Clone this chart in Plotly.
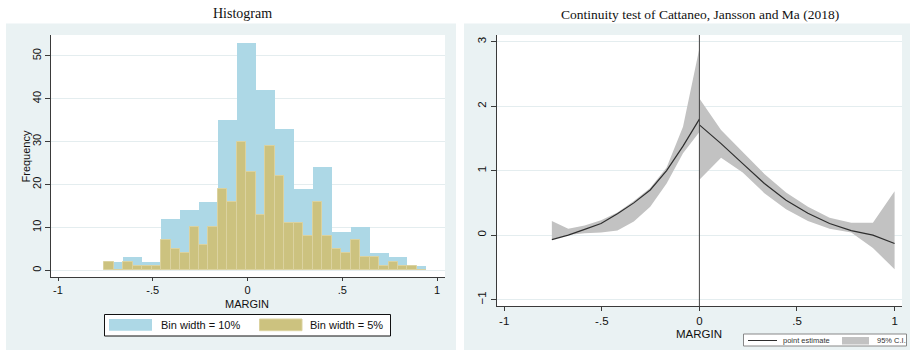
import numpy as np
import plotly.graph_objects as go

# ---------------- data ----------------
bin_start = -0.756
blue_width = 0.10
yellow_width = 0.05
blue_counts = [2, 3, 2, 12, 14, 16, 35, 53, 42, 33, 19, 24, 9, 10, 4, 3, 1]
yellow_counts = [2, 0, 2, 1, 1, 1, 7, 5, 4, 10, 6, 10, 19, 16, 30, 23, 13, 29,
                 22, 11, 11, 8, 16, 8, 5, 4, 7, 3, 3, 1, 2, 1, 1, 0]

left_x = [-0.756, -0.672, -0.588, -0.504, -0.420, -0.336, -0.252, -0.168, -0.084, 0.0]
left_est = [-0.07, 0.00, 0.09, 0.18, 0.33, 0.50, 0.70, 1.00, 1.38, 1.80]
left_hi = [0.22, 0.10, 0.15, 0.23, 0.35, 0.53, 0.73, 1.05, 1.68, 2.90]
left_lo = [-0.07, 0.00, 0.03, 0.04, 0.07, 0.21, 0.44, 0.80, 1.27, 1.60]

right_x = [0.0, 0.111, 0.222, 0.333, 0.444, 0.556, 0.667, 0.778, 0.889, 1.0]
right_est = [1.71, 1.42, 1.11, 0.80, 0.54, 0.34, 0.18, 0.07, 0.00, -0.13]
right_hi = [2.12, 1.63, 1.29, 0.95, 0.66, 0.44, 0.27, 0.19, 0.19, 0.68]
right_lo = [0.86, 1.20, 0.97, 0.65, 0.40, 0.22, 0.10, 0.04, -0.20, -0.53]

x_tick_vals = [-1, -0.5, 0, 0.5, 1]
x_tick_text = ["-1", "-.5", "0", ".5", "1"]
hist_y_ticks = [0, 10, 20, 30, 40, 50]
cjm_y_ticks = [-1, 0, 1, 2, 3]

title_left = "Histogram"
title_right = "Continuity test of Cattaneo, Jansson and Ma (2018)"
legend_left = ["Bin width = 10%", "Bin width = 5%"]
legend_right = ["point estimate", "95% C.I."]

# ---------------- style ----------------
W, H = 910, 350
BLUE = "#ADD8E6"
KHAKI = "#CCC27F"
KHAKI_EDGE = "#DBD29F"
PANEL = "#EAF2F3"
GRID = "#E4EDEF"
AXIS = "#3A3A3A"
BAND = "#C2C2C2"
SANS = "Liberation Sans, Arial, sans-serif"
SERIF = "Liberation Serif, Times New Roman, serif"


def px(x):
    return x / W


def py(y):
    return 1 - y / H


blue_x = [bin_start + blue_width * (i + 0.5) for i in range(len(blue_counts))]
yellow_x = [bin_start + yellow_width * (i + 0.5) for i in range(len(yellow_counts))]

fig = go.Figure()

fig.add_trace(go.Bar(x=blue_x, y=blue_counts, width=blue_width,
                     marker=dict(color=BLUE, line=dict(color=BLUE, width=0)),
                     xaxis="x", yaxis="y", showlegend=False))
fig.add_trace(go.Bar(x=yellow_x, y=yellow_counts, width=yellow_width,
                     marker=dict(color=KHAKI, line=dict(color=KHAKI_EDGE, width=1)),
                     xaxis="x", yaxis="y", showlegend=False))

# confidence bands
for xs, lo, hi in [(left_x, left_lo, left_hi), (right_x, right_lo, right_hi)]:
    fig.add_trace(go.Scatter(x=list(xs) + list(xs)[::-1], y=list(hi) + list(lo)[::-1],
                             fill="toself", fillcolor=BAND, mode="lines",
                             line=dict(width=0, color=BAND),
                             xaxis="x2", yaxis="y2", showlegend=False, hoverinfo="skip"))
for xs, est in [(left_x, left_est), (right_x, right_est)]:
    fig.add_trace(go.Scatter(x=xs, y=est, mode="lines",
                             line=dict(color="#2E2E2E", width=1.2),
                             xaxis="x2", yaxis="y2", showlegend=False))

shapes = []
# panel backgrounds
shapes.append(dict(type="rect", xref="paper", yref="paper", x0=px(6), x1=px(456),
                   y0=py(350), y1=py(23.5), fillcolor=PANEL, line=dict(width=0), layer="below"))
shapes.append(dict(type="rect", xref="paper", yref="paper", x0=px(464), x1=px(910),
                   y0=py(350), y1=py(23.5), fillcolor=PANEL, line=dict(width=0), layer="below"))
# plot area backgrounds
shapes.append(dict(type="rect", xref="paper", yref="paper", x0=px(51), x1=px(445),
                   y0=py(277), y1=py(35), fillcolor="white", line=dict(width=0), layer="below"))
shapes.append(dict(type="rect", xref="paper", yref="paper", x0=px(497), x1=px(902),
                   y0=py(306), y1=py(35), fillcolor="white", line=dict(width=0), layer="below"))
# vertical line at 0 (right)
shapes.append(dict(type="line", xref="x2", yref="y2 domain", x0=0, x1=0, y0=0, y1=1,
                   line=dict(color="#444444", width=1)))

# left legend
shapes.append(dict(type="rect", xref="paper", yref="paper", x0=px(104.5), x1=px(390.5),
                   y0=py(336), y1=py(314.5), fillcolor="white", line=dict(color="#111111", width=1)))
shapes.append(dict(type="rect", xref="paper", yref="paper", x0=px(109), x1=px(152),
                   y0=py(330.7), y1=py(319), fillcolor=BLUE, line=dict(width=0)))
shapes.append(dict(type="rect", xref="paper", yref="paper", x0=px(259.5), x1=px(302),
                   y0=py(330.7), y1=py(319), fillcolor=KHAKI, line=dict(color=KHAKI_EDGE, width=1)))
# right legend
shapes.append(dict(type="rect", xref="paper", yref="paper", x0=px(743.5), x1=px(906.5),
                   y0=py(346), y1=py(334), fillcolor="white", line=dict(color="#888888", width=1)))
shapes.append(dict(type="line", xref="paper", yref="paper", x0=px(748), x1=px(777),
                   y0=py(340.5), y1=py(340.5), line=dict(color="#2E2E2E", width=1)))
shapes.append(dict(type="rect", xref="paper", yref="paper", x0=px(842), x1=px(869),
                   y0=py(344.5), y1=py(337), fillcolor=BAND, line=dict(width=0)))

annotations = [
    dict(text=title_left, x=px(242), y=py(13), xref="paper", yref="paper",
         showarrow=False, font=dict(family=SERIF, size=14, color="#111111"),
         xanchor="center", yanchor="middle"),
    dict(text=title_right, x=px(700), y=py(14), xref="paper", yref="paper",
         showarrow=False, font=dict(family=SERIF, size=13.5, color="#111111"),
         xanchor="center", yanchor="middle"),
    dict(text="MARGIN", x=px(247), y=py(303.5), xref="paper", yref="paper",
         showarrow=False, font=dict(family=SANS, size=11, color="#111111"),
         xanchor="center", yanchor="middle"),
    dict(text="MARGIN", x=px(699), y=py(333.5), xref="paper", yref="paper",
         showarrow=False, font=dict(family=SANS, size=11.5, color="#111111"),
         xanchor="center", yanchor="middle"),
    dict(text="Frequency", x=px(25.5), y=py(157), xref="paper", yref="paper",
         showarrow=False, textangle=-90, font=dict(family=SANS, size=11, color="#111111"),
         xanchor="center", yanchor="middle"),
    dict(text=legend_left[0], x=px(159), y=py(325), xref="paper", yref="paper",
         showarrow=False, font=dict(family=SANS, size=11, color="#111111"),
         xanchor="left", yanchor="middle"),
    dict(text=legend_left[1], x=px(308), y=py(325), xref="paper", yref="paper",
         showarrow=False, font=dict(family=SANS, size=11, color="#111111"),
         xanchor="left", yanchor="middle"),
    dict(text=legend_right[0], x=px(780.5), y=py(340.5), xref="paper", yref="paper",
         showarrow=False, font=dict(family=SANS, size=7.5, color="#333333"),
         xanchor="left", yanchor="middle"),
    dict(text=legend_right[1], x=px(875), y=py(340.5), xref="paper", yref="paper",
         showarrow=False, font=dict(family=SANS, size=7.5, color="#333333"),
         xanchor="left", yanchor="middle"),
]

tickfont = dict(family=SANS, size=11, color="#111111")

fig.update_layout(
    width=W, height=H, margin=dict(l=0, r=0, t=0, b=0),
    paper_bgcolor="white", plot_bgcolor="rgba(0,0,0,0)",
    barmode="overlay", bargap=0, showlegend=False,
    shapes=shapes, annotations=annotations,
    xaxis=dict(domain=[px(51), px(445)], range=[-1.037, 1.042],
               tickvals=x_tick_vals, ticktext=x_tick_text, tickfont=tickfont,
               ticks="outside", ticklen=3, tickcolor=AXIS, showgrid=False,
               showline=True, linecolor=AXIS, linewidth=1, zeroline=False,
               anchor="y"),
    yaxis=dict(domain=[py(277), py(35)], range=[-1.56, 54.85],
               tickvals=hist_y_ticks, tickfont=tickfont, tickangle=-90,
               ticks="outside", ticklen=5, tickcolor=AXIS,
               showgrid=True, gridcolor=GRID, gridwidth=1,
               showline=True, linecolor=AXIS, linewidth=1, zeroline=False,
               anchor="x"),
    xaxis2=dict(domain=[px(497), px(902)], range=[-1.037, 1.038],
                tickvals=x_tick_vals, ticktext=x_tick_text,
                tickfont=dict(family=SANS, size=11.5, color="#111111"),
                ticks="outside", ticklen=4, tickcolor=AXIS, showgrid=False,
                showline=True, linecolor=AXIS, linewidth=1, zeroline=False,
                anchor="y2"),
    yaxis2=dict(domain=[py(306), py(35)], range=[-1.10, 3.105],
                tickvals=cjm_y_ticks, tickfont=dict(family=SANS, size=11.5, color="#111111"),
                tickangle=-90,
                ticks="outside", ticklen=5, tickcolor=AXIS,
                showgrid=True, gridcolor=GRID, gridwidth=1,
                showline=True, linecolor=AXIS, linewidth=1, zeroline=False,
                anchor="x2"),
)

fig.write_html("out.html", config={"displayModeBar": False},
               post_script="document.body.style.margin='0';document.body.style.padding='0';"
                           "document.body.style.overflow='hidden';")
